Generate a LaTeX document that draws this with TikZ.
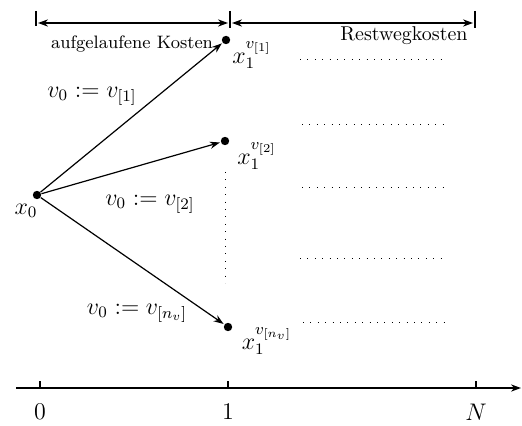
\documentclass[tikz,border=0pt]{standalone}
\usetikzlibrary{arrows.meta}
\begin{document}
\begin{tikzpicture}[x=0.5pt, y=-0.5pt,
  pt/.style={circle, fill=black, inner sep=0pt, minimum size=4.2pt},
  edge/.style={-{Stealth[length=5pt,width=3.6pt]}, semithick, shorten >=0.4pt},
  bar/.style={line width=1.4pt},
  dim/.style={{Stealth[length=5pt,width=3.6pt]}-{Stealth[length=5pt,width=3.6pt]}, semithick},
  rest/.style={dash pattern=on 0.5pt off 3.2pt, line width=0.5pt},
  lab/.style={inner sep=1pt, font=\large},
]
  \useasboundingbox (0,0) rectangle (522,426);

  % zeitachse
  \coordinate (a0) at (16,388);
  \coordinate (a1) at (521,388);
  \draw[-{Stealth[length=5pt,width=3.6pt]}, semithick] (a0) -- (a1);
  \draw[semithick] (40,388) -- (40,381);
  \draw[semithick] (228,388) -- (228,381);
  \draw[semithick] (476,388) -- (476,381);
  \node[font=\large] (t0) at (40,412) {$0$};
  \node[font=\large] (t1) at (228,412) {$1$};
  \node[font=\large] (tN) at (476,412) {$N$};

  % kostenbalken oben
  \coordinate (b0) at (36,23);
  \coordinate (b1) at (230,23);
  \coordinate (b2) at (475,23);
  \draw[bar] (36,11) -- (36,26);
  \draw[bar] (230,11) -- (230,28);
  \draw[bar] (475,11) -- (475,28);
  \draw[dim] ([xshift=1pt]b0) -- ([xshift=-1pt]b1);
  \draw[dim] ([xshift=1pt]b1) -- ([xshift=-1pt]b2);
  \node[font=\small] (auf) at (132,44) {aufgelaufene Kosten};
  \node (rw) at (404,36) {Restwegkosten};

  % zustaende
  \node[pt] (x0) at (37,195) {};
  \node[pt] (x11) at (226,40) {};
  \node[pt] (x12) at (225,141) {};
  \node[pt] (x1n) at (228,327) {};
  \node[lab] (lx0) at (26,211) {$x_0$};
  \node[lab] (lx11) at (252,55) {$x_1^{v_{[1]}}$};
  \node[lab] (lx12) at (257,156) {$x_1^{v_{[2]}}$};
  \node[lab] (lx1n) at (267,341) {$x_1^{v_{[n_v]}}$};

  \draw[edge] (x0) -- (x11);
  \draw[edge] (x0) -- (x12);
  \draw[edge] (x0) -- (x1n);
  \node[lab] (e1) at (92,96) {$v_0 := v_{[1]}$};
  \node[lab] (e2) at (150,204) {$v_0 := v_{[2]}$};
  \node[lab] (en) at (137,313) {$v_0 := v_{[n_v]}$};

  % punkte
  \draw[rest] (225,172) -- (225,283);
  \draw[rest] (300,60) -- (443,60);
  \draw[rest] (302,125) -- (443,125);
  \draw[rest] (302,188) -- (445,188);
  \draw[rest] (300,258) -- (441,258);
  \draw[rest] (303,322) -- (444,322);
\end{tikzpicture}
\end{document}
